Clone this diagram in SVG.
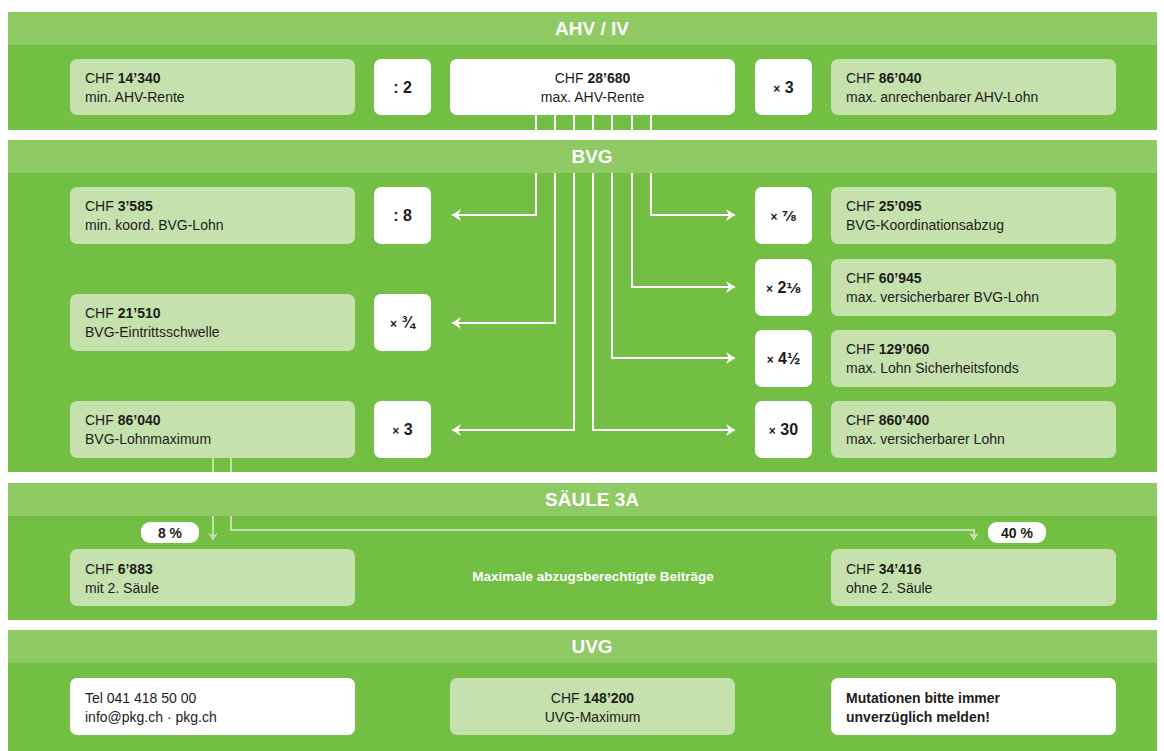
<svg xmlns="http://www.w3.org/2000/svg" width="1164" height="751" viewBox="0 0 1164 751">
<style>
.body{fill:#72bf44}
.head{fill:#8fca65}
.title{font-family:"Liberation Sans",Arial,sans-serif;font-size:19px;font-weight:bold;fill:#fff;text-anchor:middle}
.lt{fill:#c5e1ae}
.wt{fill:#fff}
.t{font-family:"Liberation Sans",Arial,sans-serif;font-size:14px;fill:#1d1d1b}
.b{font-weight:bold}
.c{text-anchor:middle}
.op{font-family:"Liberation Sans",Arial,sans-serif;font-size:16px;font-weight:bold;fill:#1d1d1b;text-anchor:middle}
.x{font-size:12px}
.fr{font-family:"DejaVu Sans",sans-serif;font-size:14px}
.wl{fill:none;stroke:#fff;stroke-width:2}
.gl{fill:none;stroke:#c5e1ae;stroke-width:2}
</style>
<defs>
<marker id="aw" markerUnits="userSpaceOnUse" viewBox="-10 -7 11 14" refX="0" refY="0" markerWidth="11" markerHeight="14" orient="auto">
<path d="M0,0 L-9,-6 L-6,0 L-9,6 Z" fill="#fff"/>
</marker>
<marker id="ag" markerUnits="userSpaceOnUse" viewBox="-8 -6 9 12" refX="0" refY="0" markerWidth="9" markerHeight="12" orient="auto">
<path d="M0,0 L-7,-5 L-5,0 L-7,5 Z" fill="#c5e1ae"/>
</marker>
</defs>
<rect width="1164" height="751" fill="#fff"/>

<!-- Sections -->
<g id="sec-ahv">
<rect class="body" x="8" y="12" width="1149" height="118"/>
<rect class="head" x="8" y="12" width="1149" height="33"/>
<text class="title" x="592" y="35">AHV / IV</text>
</g>
<g id="sec-bvg">
<rect class="body" x="8" y="140" width="1149" height="332"/>
<rect class="head" x="8" y="140" width="1149" height="33"/>
<text class="title" x="592" y="163">BVG</text>
</g>
<g id="sec-3a">
<rect class="body" x="8" y="483" width="1149" height="137"/>
<rect class="head" x="8" y="483" width="1149" height="33"/>
<text class="title" x="592" y="506">SÄULE 3A</text>
</g>
<g id="sec-uvg">
<rect class="body" x="8" y="630" width="1149" height="121"/>
<rect class="head" x="8" y="630" width="1149" height="33"/>
<text class="title" x="592" y="653">UVG</text>
</g>

<!-- Connectors -->
<g id="connectors">
<path class="wl" d="M536,115V130M555,115V130M574,115V130M593,115V130M612,115V130M632,115V130M651,115V130"/>
<path class="wl" d="M536,173V215H452" marker-end="url(#aw)"/>
<path class="wl" d="M555,173V323H452" marker-end="url(#aw)"/>
<path class="wl" d="M574,173V430H452" marker-end="url(#aw)"/>
<path class="wl" d="M593,173V430H735" marker-end="url(#aw)"/>
<path class="wl" d="M612,173V358H735" marker-end="url(#aw)"/>
<path class="wl" d="M632,173V287H735" marker-end="url(#aw)"/>
<path class="wl" d="M651,173V215H735" marker-end="url(#aw)"/>
<path class="gl" d="M213,458V472M231,458V472"/>
<path class="gl" d="M213,516V540" marker-end="url(#ag)"/>
<path class="gl" d="M231,516V530H974V540" marker-end="url(#ag)"/>
</g>

<!-- AHV nodes -->
<g id="ahv-min">
<rect class="lt" x="70" y="59" width="285" height="56" rx="7"/>
<text class="t" x="85" y="83">CHF <tspan class="b">14’340</tspan></text>
<text class="t" x="85" y="102">min. AHV-Rente</text>
</g>
<g id="op-div2">
<rect class="wt" x="374" y="59" width="57" height="56" rx="7"/>
<text class="op" x="402.5" y="93">: 2</text>
</g>
<g id="ahv-max">
<rect class="wt" x="450" y="59" width="285" height="56" rx="7"/>
<text class="t c" x="592.5" y="83">CHF <tspan class="b">28’680</tspan></text>
<text class="t c" x="592.5" y="102">max. AHV-Rente</text>
</g>
<g id="op-x3a">
<rect class="wt" x="755" y="59" width="57" height="56" rx="7"/>
<text class="op" x="783.5" y="93"><tspan class="x">×</tspan> 3</text>
</g>
<g id="ahv-lohn">
<rect class="lt" x="831" y="59" width="285" height="56" rx="7"/>
<text class="t" x="846" y="83">CHF <tspan class="b">86’040</tspan></text>
<text class="t" x="846" y="102">max. anrechenbarer AHV-Lohn</text>
</g>

<!-- BVG nodes left -->
<g id="bvg-koord">
<rect class="lt" x="70" y="187" width="285" height="57" rx="7"/>
<text class="t" x="85" y="211">CHF <tspan class="b">3’585</tspan></text>
<text class="t" x="85" y="230">min. koord. BVG-Lohn</text>
</g>
<g id="op-div8">
<rect class="wt" x="374" y="187" width="57" height="57" rx="7"/>
<text class="op" x="402.5" y="221">: 8</text>
</g>
<g id="bvg-eintritt">
<rect class="lt" x="70" y="294" width="285" height="57" rx="7"/>
<text class="t" x="85" y="318">CHF <tspan class="b">21’510</tspan></text>
<text class="t" x="85" y="337">BVG-Eintrittsschwelle</text>
</g>
<g id="op-x34">
<rect class="wt" x="374" y="294" width="57" height="57" rx="7"/>
<text class="op" x="402.5" y="328"><tspan class="x">×</tspan> ¾</text>
</g>
<g id="bvg-lohnmax">
<rect class="lt" x="70" y="401" width="285" height="57" rx="7"/>
<text class="t" x="85" y="425">CHF <tspan class="b">86’040</tspan></text>
<text class="t" x="85" y="444">BVG-Lohnmaximum</text>
</g>
<g id="op-x3b">
<rect class="wt" x="374" y="401" width="57" height="57" rx="7"/>
<text class="op" x="402.5" y="435"><tspan class="x">×</tspan> 3</text>
</g>

<!-- BVG nodes right -->
<g id="op-x78">
<rect class="wt" x="755" y="187" width="57" height="57" rx="7"/>
<text class="op" x="783.5" y="221"><tspan class="x">×</tspan> <tspan class="fr">⅞</tspan></text>
</g>
<g id="bvg-koordabzug">
<rect class="lt" x="831" y="187" width="285" height="57" rx="7"/>
<text class="t" x="846" y="211">CHF <tspan class="b">25’095</tspan></text>
<text class="t" x="846" y="230">BVG-Koordinationsabzug</text>
</g>
<g id="op-x218">
<rect class="wt" x="755" y="259" width="57" height="57" rx="7"/>
<text class="op" x="783.5" y="293"><tspan class="x">×</tspan> 2<tspan class="fr">⅛</tspan></text>
</g>
<g id="bvg-versmax">
<rect class="lt" x="831" y="259" width="285" height="57" rx="7"/>
<text class="t" x="846" y="283">CHF <tspan class="b">60’945</tspan></text>
<text class="t" x="846" y="302">max. versicherbarer BVG-Lohn</text>
</g>
<g id="op-x412">
<rect class="wt" x="755" y="330" width="57" height="57" rx="7"/>
<text class="op" x="783.5" y="364"><tspan class="x">×</tspan> 4½</text>
</g>
<g id="bvg-sifo">
<rect class="lt" x="831" y="330" width="285" height="57" rx="7"/>
<text class="t" x="846" y="354">CHF <tspan class="b">129’060</tspan></text>
<text class="t" x="846" y="373">max. Lohn Sicherheitsfonds</text>
</g>
<g id="op-x30">
<rect class="wt" x="755" y="401" width="57" height="57" rx="7"/>
<text class="op" x="783.5" y="435"><tspan class="x">×</tspan> 30</text>
</g>
<g id="bvg-verslohn">
<rect class="lt" x="831" y="401" width="285" height="57" rx="7"/>
<text class="t" x="846" y="425">CHF <tspan class="b">860’400</tspan></text>
<text class="t" x="846" y="444">max. versicherbarer Lohn</text>
</g>

<!-- Säule 3A nodes -->
<g id="pill-8">
<rect class="wt" x="141" y="522" width="58" height="21" rx="9"/>
<text class="t b c" x="170" y="538">8 %</text>
</g>
<g id="pill-40">
<rect class="wt" x="988" y="522" width="58" height="21" rx="9"/>
<text class="t b c" x="1017" y="538">40 %</text>
</g>
<g id="s3a-mit">
<rect class="lt" x="70" y="549" width="285" height="57" rx="7"/>
<text class="t" x="85" y="574">CHF <tspan class="b">6’883</tspan></text>
<text class="t" x="85" y="593">mit 2. Säule</text>
</g>
<g id="s3a-label">
<text x="593" y="581" font-family="Liberation Sans, Arial, sans-serif" font-size="13.5" font-weight="bold" fill="#fff" text-anchor="middle">Maximale abzugsberechtigte Beiträge</text>
</g>
<g id="s3a-ohne">
<rect class="lt" x="831" y="549" width="285" height="57" rx="7"/>
<text class="t" x="846" y="574">CHF <tspan class="b">34’416</tspan></text>
<text class="t" x="846" y="593">ohne 2. Säule</text>
</g>

<!-- UVG nodes -->
<g id="uvg-contact">
<rect class="wt" x="70" y="678" width="285" height="57" rx="7"/>
<text class="t" x="85" y="703">Tel 041 418 50 00</text>
<text class="t" x="85" y="722">info@pkg.ch · pkg.ch</text>
</g>
<g id="uvg-max">
<rect class="lt" x="450" y="678" width="285" height="57" rx="7"/>
<text class="t c" x="592.5" y="703">CHF <tspan class="b">148’200</tspan></text>
<text class="t c" x="592.5" y="722">UVG-Maximum</text>
</g>
<g id="uvg-note">
<rect class="wt" x="831" y="678" width="285" height="57" rx="7"/>
<text class="t b" x="846" y="703">Mutationen bitte immer</text>
<text class="t b" x="846" y="722">unverzüglich melden!</text>
</g>
</svg>
